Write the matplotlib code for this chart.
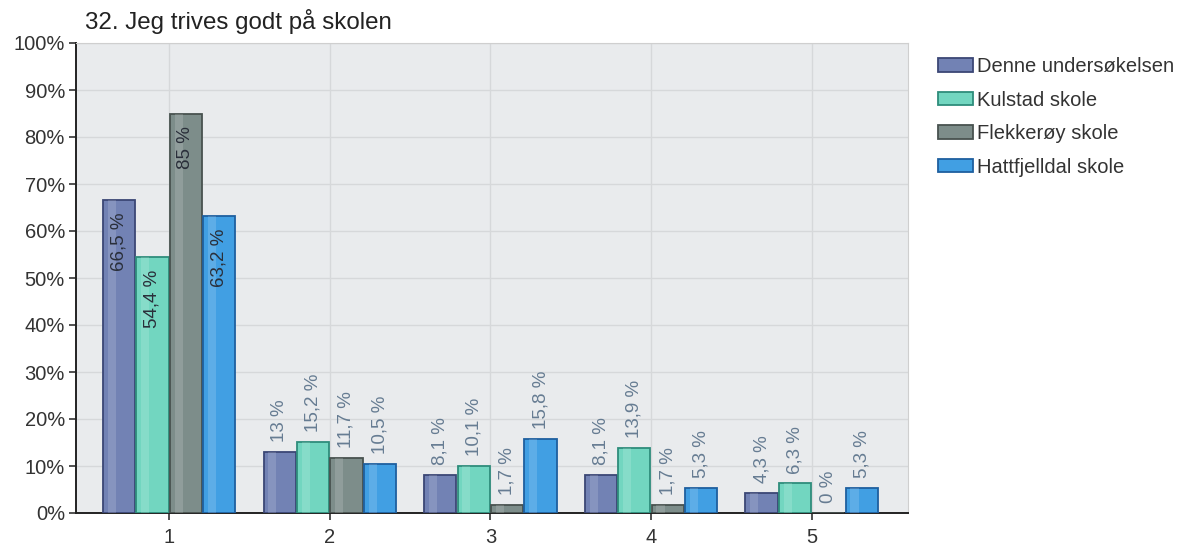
import numpy as np
import matplotlib.pyplot as plt
from matplotlib.patches import Rectangle

plt.rcParams['font.family'] = ['Liberation Sans', 'DejaVu Sans']

title = "32. Jeg trives godt på skolen"
categories = ["1", "2", "3", "4", "5"]
series_names = ["Denne undersøkelsen", "Kulstad skole", "Flekkerøy skole", "Hattfjelldal skole"]
denne = [66.5, 13.0, 8.1, 8.1, 4.3]
kulstad = [54.4, 15.2, 10.1, 13.9, 6.3]
flekkeroy = [85.0, 11.7, 1.7, 1.7, 0.0]
hattfjelldal = [63.2, 10.5, 15.8, 5.3, 5.3]
values = [denne, kulstad, flekkeroy, hattfjelldal]

face_colors = ["#7282b4", "#72d6c0", "#7d8d8a", "#419fe3"]
edge_colors = ["#3b4775", "#2e8c7b", "#48524f", "#1e5f9f"]


def fmt(v):
    s = f"{v:.1f}".rstrip("0").rstrip(".")
    return s.replace(".", ",") + " %"


fig = plt.figure(figsize=(11.89, 5.47), dpi=100)
ax = fig.add_axes([76 / 1189, 1 - 513 / 547, (908 - 76) / 1189, (513 - 43) / 547])
ax.set_facecolor("#e9ebed")

x = np.arange(1, len(categories) + 1)
width = 0.2
step = 0.208
offsets = (np.arange(len(values)) - 1.5) * step

for i, vals in enumerate(values):
    bars = ax.bar(x + offsets[i], vals, width, color=face_colors[i],
                  edgecolor=edge_colors[i], linewidth=1.3, zorder=3)
    # soft highlight stripe like the glossy bars in the original
    ax.bar(x + offsets[i] - 0.045, vals, 0.05, color="white", alpha=0.15,
           linewidth=0, zorder=3.5)
    for b, v in zip(bars, vals):
        cx = b.get_x() + b.get_width() / 2
        if v > 30:
            ax.annotate(fmt(v), (cx, v), xytext=(0, -9), textcoords="offset points",
                        rotation=90, ha="center", va="top", fontsize=13.5,
                        color="#2a2f3a", zorder=4)
        else:
            ax.annotate(fmt(v), (cx, v), xytext=(0, 7), textcoords="offset points",
                        rotation=90, ha="center", va="bottom", fontsize=13.5,
                        color="#667c92", zorder=4)

ax.set_xlim(0.42, 5.6)
ax.set_ylim(0, 100)
ax.set_xticks(x)
ax.set_xticklabels(categories)
ax.set_yticks(np.arange(0, 101, 10))
ax.set_yticklabels([f"{t}%" for t in range(0, 101, 10)])
ax.tick_params(labelsize=14.5, colors="#333333", length=5, width=1.2)
ax.tick_params(axis="x", pad=6)
ax.tick_params(axis="y", pad=3)
ax.grid(True, color="#d6d8da", linewidth=1, zorder=0)

for side in ["top", "right"]:
    ax.spines[side].set_color("#cfcfcf")
for side in ["left", "bottom"]:
    ax.spines[side].set_color("#222222")
    ax.spines[side].set_linewidth(1.4)

fig.text(85 / 1189, 1 - 22 / 547, title, fontsize=17.4, color="#222222",
         ha="left", va="center")

handles = [Rectangle((0, 0), 1, 1, facecolor=face_colors[i], edgecolor=edge_colors[i],
                     linewidth=1.3) for i in range(len(series_names))]
fig.legend(handles, series_names, loc="upper left",
           bbox_to_anchor=(920 / 1189, 1 - 39 / 547), frameon=False,
           fontsize=14.5, labelspacing=0.72, handlelength=1.75, handleheight=0.65,
           handletextpad=0.2, labelcolor="#333333")

fig.savefig("out.png", dpi=100)
